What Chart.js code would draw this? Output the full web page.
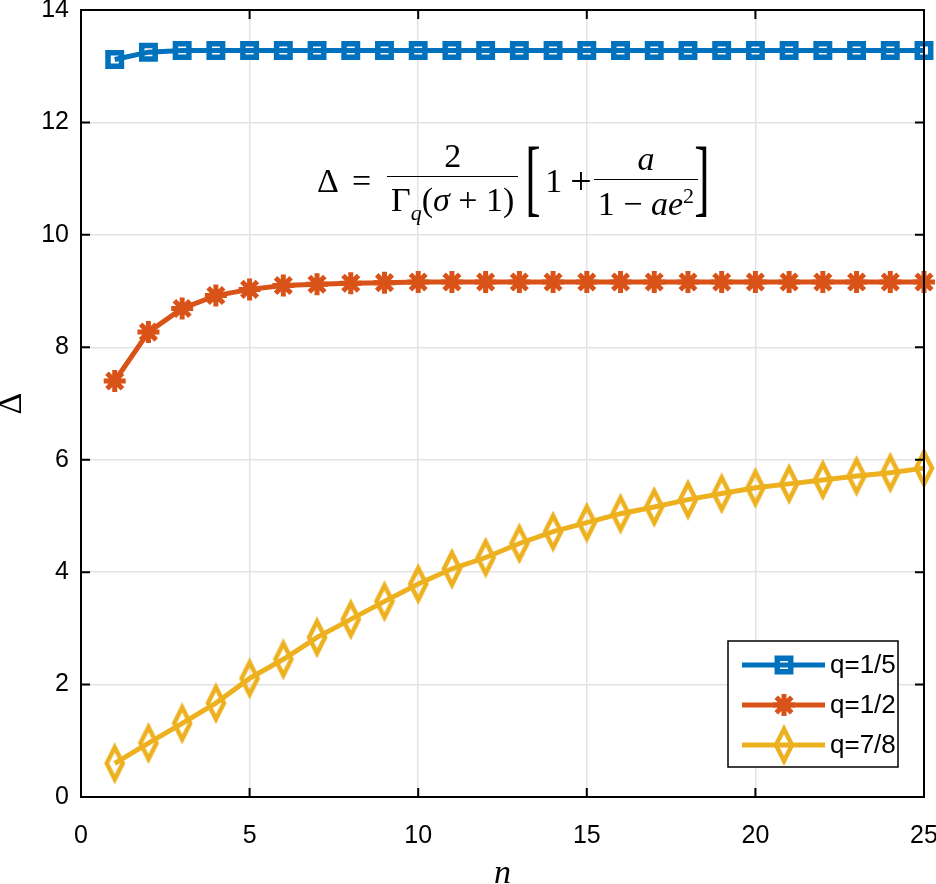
<!DOCTYPE html>
<html>
<head>
<meta charset="utf-8">
<script src="https://cdn.jsdelivr.net/npm/chart.js@4.4.1/dist/chart.umd.min.js"></script>
<style>
  body { margin: 0; background: #fff; }
  #wrap { position: relative; width: 936px; height: 884px; }
  #formula {
    position: absolute; left: 317px; top: 137px;
    font-family: "Liberation Serif", "DejaVu Serif", serif; font-size: 34px;
    display: flex; align-items: center; white-space: nowrap; color: #000;
  }
  .frac { display: inline-flex; flex-direction: column; align-items: center; margin: 0 3px; }
  .frac .num { padding: 0 4px 2px; line-height: 1.1; }
  .frac .den { padding: 4px 4px 0; border-top: 1.5px solid #000; line-height: 1.1; }
  .br { font-size: 84px; font-weight: 100; transform: scaleX(0.55); line-height: 1; margin: -6px -2px 0; }
  .op { margin: 0 13px; }
  .plus { margin: 0 2px 0 8px; font-size: 38px; }
  i { font-style: italic; }
  sub { font-size: 22px; vertical-align: -9px; }
  sup { font-size: 22px; vertical-align: 12px; }
</style>
</head>
<body>
<div id="wrap">
  <canvas id="chart"></canvas>
  <div id="formula">
    <span>Δ</span><span class="op">=</span>
    <span class="frac"><span class="num">2</span><span class="den">Γ<sub><i>q</i></sub>(<i>σ</i> + 1)</span></span>
    <span class="br">[</span><span>1</span><span class="plus">+</span>
    <span class="frac" style="margin:0 -8px 0 0"><span class="num"><i>a</i></span><span class="den">1 − <i>ae</i><sup>2</sup></span></span>
    <span class="br">]</span>
  </div>
</div>
<script>
  // data
  var nValues = [1,2,3,4,5,6,7,8,9,10,11,12,13,14,15,16,17,18,19,20,21,22,23,24,25];
  var q15 = [13.12,13.25,13.28,13.28,13.28,13.28,13.28,13.28,13.28,13.28,13.28,13.28,13.28,13.28,13.28,13.28,13.28,13.28,13.28,13.28,13.28,13.28,13.28,13.28,13.28];
  var q12 = [7.40,8.27,8.69,8.92,9.03,9.10,9.12,9.14,9.15,9.16,9.16,9.16,9.16,9.16,9.16,9.16,9.16,9.16,9.16,9.16,9.16,9.16,9.16,9.16,9.16];
  var q78 = [0.60,0.96,1.31,1.67,2.11,2.45,2.84,3.16,3.48,3.79,4.06,4.26,4.51,4.72,4.88,5.04,5.16,5.29,5.40,5.50,5.57,5.64,5.71,5.77,5.85];
  var seriesLabels = ["q=1/5", "q=1/2", "q=7/8"];
  var xTicks = [0, 5, 10, 15, 20, 25];
  var yTicks = [0, 2, 4, 6, 8, 10, 12, 14];

  var blue = "#0072BD", orange = "#D95319", yellow = "#EDB120";
  var fontFamily = "'Liberation Sans Narrow', 'Liberation Sans', Arial, sans-serif";
  var tickFont = { family: fontFamily, size: 25, lineHeight: 0.6 };

  // tall diamond marker like matlab's 'd'
  var diamond = document.createElement("canvas");
  diamond.width = 28; diamond.height = 42;
  (function () {
    var c = diamond.getContext("2d");
    c.strokeStyle = yellow; c.lineWidth = 4.5; c.lineJoin = "miter";
    c.beginPath();
    c.moveTo(14, 5); c.lineTo(22, 21); c.lineTo(14, 37); c.lineTo(6, 21);
    c.closePath(); c.stroke();
  })();

  function toXY(ys) {
    return ys.map(function (v, i) { return { x: nValues[i], y: v }; });
  }

  function noPadding(s) {
    s.paddingLeft = 0; s.paddingRight = 0; s.paddingTop = 0; s.paddingBottom = 0;
    s.getPadding = function () { return { left: 0, top: 0, right: 0, bottom: 0 }; };
  }

  // box around the plot + inward ticks on all four sides
  var boxPlugin = {
    id: "box",
    afterDraw: function (chart) {
      var ctx = chart.ctx, a = chart.chartArea;
      var xs = chart.scales.x, ys = chart.scales.y;
      ctx.save();
      ctx.strokeStyle = "#000";
      ctx.lineWidth = 2;
      ctx.strokeRect(a.left, a.top, a.right - a.left, a.bottom - a.top);
      ctx.beginPath();
      xTicks.forEach(function (t) {
        var px = xs.getPixelForValue(t);
        ctx.moveTo(px, a.bottom); ctx.lineTo(px, a.bottom - 9);
        ctx.moveTo(px, a.top); ctx.lineTo(px, a.top + 9);
      });
      yTicks.forEach(function (t) {
        var py = ys.getPixelForValue(t);
        ctx.moveTo(a.left, py); ctx.lineTo(a.left + 9, py);
        ctx.moveTo(a.right, py); ctx.lineTo(a.right - 9, py);
      });
      ctx.stroke();
      ctx.restore();
    }
  };

  // matlab-ish legend in the lower right corner
  var legendPlugin = {
    id: "boxLegend",
    afterDraw: function (chart) {
      var ctx = chart.ctx;
      var x0 = 728, y0 = 641, w = 170, h = 126;
      ctx.save();
      ctx.fillStyle = "#fff";
      ctx.fillRect(x0, y0, w, h);
      ctx.strokeStyle = "#000";
      ctx.lineWidth = 1.5;
      ctx.strokeRect(x0, y0, w, h);
      chart.data.datasets.forEach(function (ds, i) {
        var y = y0 + 24 + i * 40;
        ctx.strokeStyle = ds.borderColor;
        ctx.lineWidth = ds.borderWidth;
        ctx.beginPath(); ctx.moveTo(742, y); ctx.lineTo(825, y); ctx.stroke();
        ctx.strokeStyle = ds.borderColor;
        ctx.fillStyle = "rgba(0,0,0,0)";
        ctx.lineWidth = ds.pointBorderWidth;
        Chart.helpers.drawPoint(ctx, { pointStyle: ds.pointStyle, radius: ds.pointRadius, borderWidth: ds.pointBorderWidth, rotation: 0 }, 784, y);
        ctx.fillStyle = "#000";
        ctx.font = "26px " + fontFamily;
        ctx.textBaseline = "middle";
        ctx.textAlign = "left";
        ctx.fillText(ds.label, 830, y + 1);
      });
      ctx.restore();
    }
  };

  new Chart(document.getElementById("chart"), {
    type: "line",
    data: {
      datasets: [
        { label: seriesLabels[0], data: toXY(q15), borderColor: blue, borderWidth: 5,
          pointStyle: "rect", pointRadius: 9.5, pointBorderWidth: 5.5, pointBackgroundColor: "rgba(0,0,0,0)", pointBorderColor: blue },
        { label: seriesLabels[1], data: toXY(q12), borderColor: orange, borderWidth: 5,
          pointStyle: "star", pointRadius: 11, pointBorderWidth: 5, pointBackgroundColor: "rgba(0,0,0,0)", pointBorderColor: orange },
        { label: seriesLabels[2], data: toXY(q78), borderColor: yellow, borderWidth: 5,
          pointStyle: diamond, pointRadius: 10, pointBorderWidth: 4.5, pointBackgroundColor: "rgba(0,0,0,0)", pointBorderColor: yellow }
      ]
    },
    options: {
      responsive: true,
      maintainAspectRatio: false,
      animation: false,
      clip: false,
      layout: { autoPadding: false, padding: { left: 0, top: 10, right: 12, bottom: 0 } },
      plugins: { legend: { display: false }, tooltip: { enabled: false } },
      scales: {
        x: {
          type: "linear", min: 0, max: 25,
          afterBuildTicks: function (s) { s.ticks = xTicks.map(function (v) { return { value: v }; }); },
          afterFit: function (s) { s.height = 87; noPadding(s); },
          ticks: { font: tickFont, color: "#000", padding: 32, maxRotation: 0 },
          grid: { color: "#e3e3e3", lineWidth: 1.5, drawTicks: false },
          border: { display: false },
          title: { display: true, text: "n", color: "#000", padding: { top: 0, bottom: 0 },
                   font: { family: "'Liberation Serif', serif", size: 34, style: "italic", lineHeight: 0.6 } }
        },
        y: {
          min: 0, max: 14,
          afterBuildTicks: function (s) { s.ticks = yTicks.map(function (v) { return { value: v }; }); },
          afterFit: function (s) { s.width = 81; noPadding(s); },
          ticks: { font: tickFont, color: "#000", padding: 12 },
          grid: { color: "#e3e3e3", lineWidth: 1.5, drawTicks: false },
          border: { display: false },
          title: { display: true, text: "Δ", color: "#000", padding: { top: 0, bottom: 0 },
                   font: { family: "'Liberation Serif', serif", size: 34, lineHeight: 0.7 } }
        }
      }
    },
    plugins: [boxPlugin, legendPlugin]
  });
</script>
</body>
</html>
